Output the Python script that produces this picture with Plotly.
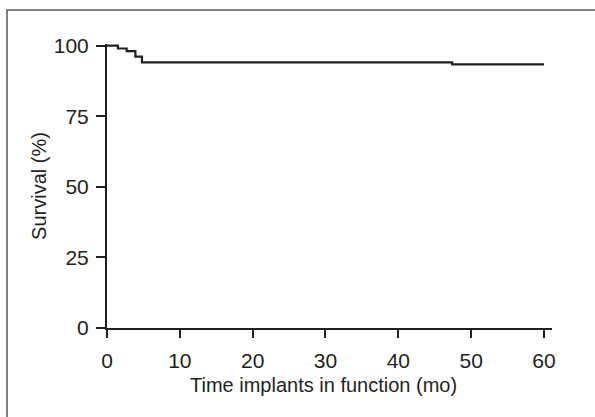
import plotly.graph_objects as go

# Kaplan-Meier style survival data (step function)
months = [0, 1.5, 2.7, 3.9, 4.8, 47.4, 60]
survival = [100, 99.0, 98.1, 96.1, 94.1, 93.4, 93.4]

x_ticks = [0, 10, 20, 30, 40, 50, 60]
y_ticks = [0, 25, 50, 75, 100]

x_title = "Time implants in function (mo)"
y_title = "Survival (%)"

FONT = "Liberation Sans, Arial, sans-serif"
INK = "#231f20"

fig = go.Figure()
fig.add_trace(go.Scatter(
    x=months, y=survival, mode="lines", line_shape="hv",
    line=dict(color=INK, width=2.2), showlegend=False, hoverinfo="skip",
))

L, R, T, B = 107, 43, 44, 89
W, H = 595, 417
pw = W - L - R
ph = H - T - B

fig.update_layout(
    width=W, height=H,
    margin=dict(l=L, r=R, t=T, b=B, pad=0),
    paper_bgcolor="white", plot_bgcolor="white",
    font=dict(family=FONT, size=20, color=INK),
    xaxis=dict(
        range=[0, 61.1], tickvals=x_ticks, ticks="outside", ticklen=8,
        tickwidth=2, tickcolor=INK, showline=True, linecolor=INK, linewidth=2,
        showgrid=False, zeroline=False, tickfont=dict(size=21, color=INK),
        ticklabelstandoff=5,
    ),
    yaxis=dict(
        range=[0, 100.6], tickvals=y_ticks, ticks="outside", ticklen=9,
        tickwidth=2, tickcolor=INK, showline=True, linecolor=INK, linewidth=2,
        showgrid=False, zeroline=False, tickfont=dict(size=21, color=INK),
        ticklabelstandoff=3,
        title=dict(text=y_title, font=dict(size=20, color=INK), standoff=2),
    ),
)

# x-axis title (slightly left of plot centre, as in the reference)
fig.add_annotation(text=x_title, xref="paper", yref="paper",
                   x=(323 - L) / pw, y=-(385 - (T + ph)) / ph,
                   xanchor="center", yanchor="middle", showarrow=False,
                   font=dict(size=20, color=INK, family=FONT))

# outer frame (top and left edges visible, others off-canvas)
x0 = (7 - L) / pw
x1 = (W + 5 - L) / pw
y1 = 1 + (T - 10) / ph
y0 = -(H + 5 - (T + ph)) / ph
fig.add_shape(type="rect", xref="paper", yref="paper", x0=x0, x1=x1, y0=y0, y1=y1,
              line=dict(color="#555555", width=1.5), fillcolor="rgba(0,0,0,0)", layer="below")

fig.write_html("out.html", config={"displayModeBar": False},
               post_script="document.body.style.margin='0';document.body.style.overflow='hidden';")
